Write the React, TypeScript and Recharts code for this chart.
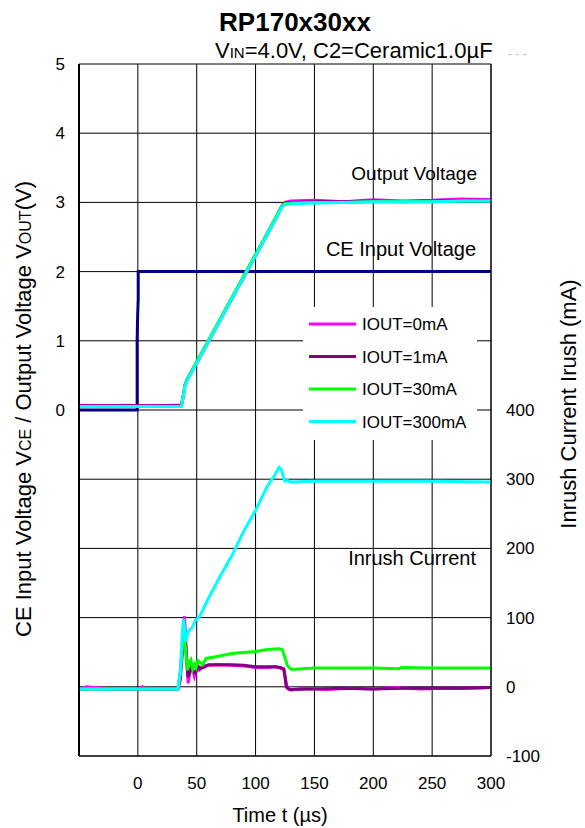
import React from 'react';
import { LineChart, Line, XAxis, YAxis, CartesianGrid, Customized } from 'recharts';

// ---- axis ticks ----
const xTicks = [-50, 0, 50, 100, 150, 200, 250, 300];
const vTicks = [-5, -4, -3, -2, -1, 0, 1, 2, 3, 4, 5];
const iTicks = [-100, 0, 100, 200, 300, 400];

// ---- CE input voltage (V) ----
const ceT = [-50, -0.6, -0.6, -0.2, 0.3, 0.3, 300];
const ceV = [0, 0, 1.0, 1.35, 1.6, 2.0, 2.0];

// ---- output voltage (V) ----
const voutT = [-50, -30, -10, 10, 30, 37, 38.5, 40, 42, 50, 60, 70, 80, 90, 100, 110, 118, 122, 125, 130, 150, 175, 200, 225, 250, 275, 300];
const vout0mA = [0.07, 0.06, 0.07, 0.06, 0.07, 0.07, 0.2, 0.36, 0.45, 0.69, 1.0, 1.31, 1.62, 1.93, 2.24, 2.55, 2.8, 2.94, 3.0, 3.02, 3.03, 3.01, 3.04, 3.02, 3.03, 3.05, 3.04];
const vout1mA = [0.06, 0.06, 0.06, 0.06, 0.06, 0.06, 0.19, 0.35, 0.44, 0.68, 0.99, 1.3, 1.61, 1.92, 2.23, 2.54, 2.79, 2.93, 2.99, 3.0, 3.01, 3.01, 3.02, 3.01, 3.02, 3.03, 3.03];
const vout30mA = [0.05, 0.05, 0.05, 0.05, 0.05, 0.05, 0.2, 0.36, 0.45, 0.7, 1.01, 1.32, 1.63, 1.94, 2.25, 2.56, 2.81, 2.94, 2.98, 2.99, 3.0, 3.0, 3.01, 3.01, 3.01, 3.02, 3.02];
const vout300mA = [0.05, 0.05, 0.05, 0.05, 0.05, 0.05, 0.19, 0.34, 0.43, 0.68, 0.99, 1.3, 1.61, 1.92, 2.23, 2.54, 2.79, 2.92, 2.97, 2.98, 2.99, 3.0, 3.01, 3.01, 3.01, 3.02, 3.02];

// ---- inrush current (mA) ----
const i0T = [-50, -46, -44, -20, 2, 4, 6, 30, 34, 36, 38, 39.6, 41, 42.7, 44.5, 46, 48, 50, 52, 55, 60, 70, 80, 90, 100, 110, 117, 121, 124, 125.5, 127, 130, 140, 160, 180, 200, 220, 240, 260, 280, 300];
const i0V = [-3, -3, 0, -3, -3, 0, -3, -3, -3, 20, 60, 102, 60, 5, 25, 28, 15, 27, 24, 30, 31, 32, 31, 30, 28, 28, 29, 27, 25, 10, -2, -5, -2, -4, -2, -3, -1, -3, -2, -2, -1];
const i1T = [-50, 0, 34, 36, 38, 39.5, 41, 42.5, 44, 45.5, 47, 49, 51, 53, 56, 60, 70, 80, 90, 100, 110, 117, 121, 124, 125, 126, 128, 130, 150, 175, 200, 225, 250, 275, 300];
const i1V = [-3, -3, -3, 10, 55, 85, 50, 14, 20, 30, 22, 20, 30, 26, 28, 32, 32, 32, 31, 29, 29, 29, 28, 26, 15, 0, -3, -4, -3, -2, -3, -2, -2, -2, -1];
const i30T = [-50, 0, 34, 36, 38, 39.5, 41, 42, 43.5, 45, 46.5, 48, 49.5, 51, 53, 55, 58, 65, 80, 100, 110, 120, 122.6, 125, 127, 129, 131, 150, 200, 222, 224, 250, 300];
const i30V = [-3, -3, -3, 20, 60, 75, 45, 24, 35, 39, 26, 33, 28, 38, 35, 32, 41, 43, 48, 51, 54, 55, 54, 42, 31, 27, 25, 27, 27, 26, 28, 27, 27];
const i300T = [-50, 0, 30, 34, 36, 38, 39, 40.5, 42, 43.5, 46, 49, 52, 60, 70, 80, 90, 100, 110, 116, 120, 122, 124, 125, 127, 130, 150, 200, 250, 300];
const i300V = [-3, -3, -3, -3, 20, 85, 98, 65, 75, 82, 85, 97, 100, 128, 160, 190, 225, 255, 290, 305, 317, 314, 300, 297, 298, 296, 297, 297, 297, 296];

const toPts = (ts: number[], vs: number[]) => ts.map((t, k) => ({ t, v: vs[k] }));

const series = [
  { name: 'IOUT=0mA', color: '#ff00ff', vout: vout0mA, iT: i0T, iV: i0V },
  { name: 'IOUT=1mA', color: '#800080', vout: vout1mA, iT: i1T, iV: i1V },
  { name: 'IOUT=30mA', color: '#00ff00', vout: vout30mA, iT: i30T, iV: i30V },
  { name: 'IOUT=300mA', color: '#00ffff', vout: vout300mA, iT: i300T, iV: i300V },
];

const FONT = 'Arial, "Liberation Sans", sans-serif';

const Overlay = () => (
  <g fontFamily={FONT} fill="#000">
    <text x={295} y={31} fontSize={26} fontWeight="bold" textAnchor="middle">RP170x30xx</text>
    <text x={215} y={58} fontSize={22}>
      V<tspan fontSize={15}>IN</tspan>=4.0V, C2=Ceramic1.0µF
    </text>
    <text x={508} y={58} fontSize={12} fill="#bbbbbb">- - -</text>
    <text x={477} y={180} fontSize={19} textAnchor="end">Output Voltage</text>
    <text x={476} y={256} fontSize={20} textAnchor="end">CE Input Voltage</text>
    <text x={476} y={565} fontSize={20} textAnchor="end">Inrush Current</text>
    <text x={30.5} y={409} fontSize={22} textAnchor="middle" transform="rotate(-90 30.5 409)">
      CE Input Voltage V<tspan fontSize={16}>CE</tspan> / Output Voltage V<tspan fontSize={16}>OUT</tspan>(V)
    </text>
    <text x={576} y={404} fontSize={22} textAnchor="middle" transform="rotate(-90 576 404)">
      Inrush Current Irush (mA)
    </text>
    <text x={280} y={822} fontSize={20} textAnchor="middle">Time t (µs)</text>
    <rect x={303} y={307} width={174} height={133} fill="#ffffff" />
    {series.map((s, k) => {
      const cy = 324 + k * 32.5;
      return (
        <g key={s.name}>
          <line x1={309} x2={356} y1={cy} y2={cy} stroke={s.color} strokeWidth={3} />
          <text x={362} y={cy + 6} fontSize={17}>{s.name}</text>
        </g>
      );
    })}
  </g>
);

export default function App() {
  const tickStyle = { fill: '#000', fontSize: 17, fontFamily: FONT };
  return (
    <div style={{ position: 'absolute', left: 0, top: 0, width: 585, height: 828, background: '#fff' }}>
      <LineChart width={585} height={828} margin={{ top: 64, right: 34, bottom: 32, left: 19 }}>
        <CartesianGrid yAxisId="v" stroke="#000" strokeWidth={1} ticks={vTicks} />
        <XAxis
          dataKey="t"
          type="number"
          domain={[-50, 300]}
          ticks={xTicks}
          interval={0}
          allowDataOverflow
          height={40}
          tickLine={false}
          tickSize={0}
          tickMargin={21}
          axisLine={{ stroke: '#000' }}
          tick={tickStyle}
          tickFormatter={(v: number) => (v < 0 ? '' : String(v))}
        />
        <YAxis
          yAxisId="v"
          type="number"
          domain={[-5, 5]}
          ticks={vTicks}
          interval={0}
          allowDataOverflow
          width={60}
          tickLine={false}
          tickSize={0}
          tickMargin={14}
          axisLine={{ stroke: '#000', strokeWidth: 2 }}
          tick={tickStyle}
          tickFormatter={(v: number) => (v < 0 ? '' : String(v))}
        />
        <YAxis
          yAxisId="i"
          orientation="right"
          type="number"
          domain={[-100, 900]}
          ticks={iTicks}
          interval={0}
          allowDataOverflow
          width={60}
          tickLine={false}
          tickSize={0}
          tickMargin={15}
          axisLine={{ stroke: '#000' }}
          tick={tickStyle}
        />
        <Line
          yAxisId="v"
          data={toPts(ceT, ceV)}
          dataKey="v"
          stroke="#000080"
          strokeWidth={3}
          dot={false}
          isAnimationActive={false}
          type="linear"
        />
        {series.map((s) => (
          <Line
            key={'v' + s.name}
            yAxisId="v"
            data={toPts(voutT, s.vout)}
            dataKey="v"
            stroke={s.color}
            strokeWidth={3}
            dot={false}
            isAnimationActive={false}
            type="linear"
          />
        ))}
        {series.map((s) => (
          <Line
            key={'i' + s.name}
            yAxisId="i"
            data={toPts(s.iT, s.iV)}
            dataKey="v"
            stroke={s.color}
            strokeWidth={3}
            dot={false}
            isAnimationActive={false}
            type="linear"
          />
        ))}
        <Customized component={Overlay} />
      </LineChart>
    </div>
  );
}
